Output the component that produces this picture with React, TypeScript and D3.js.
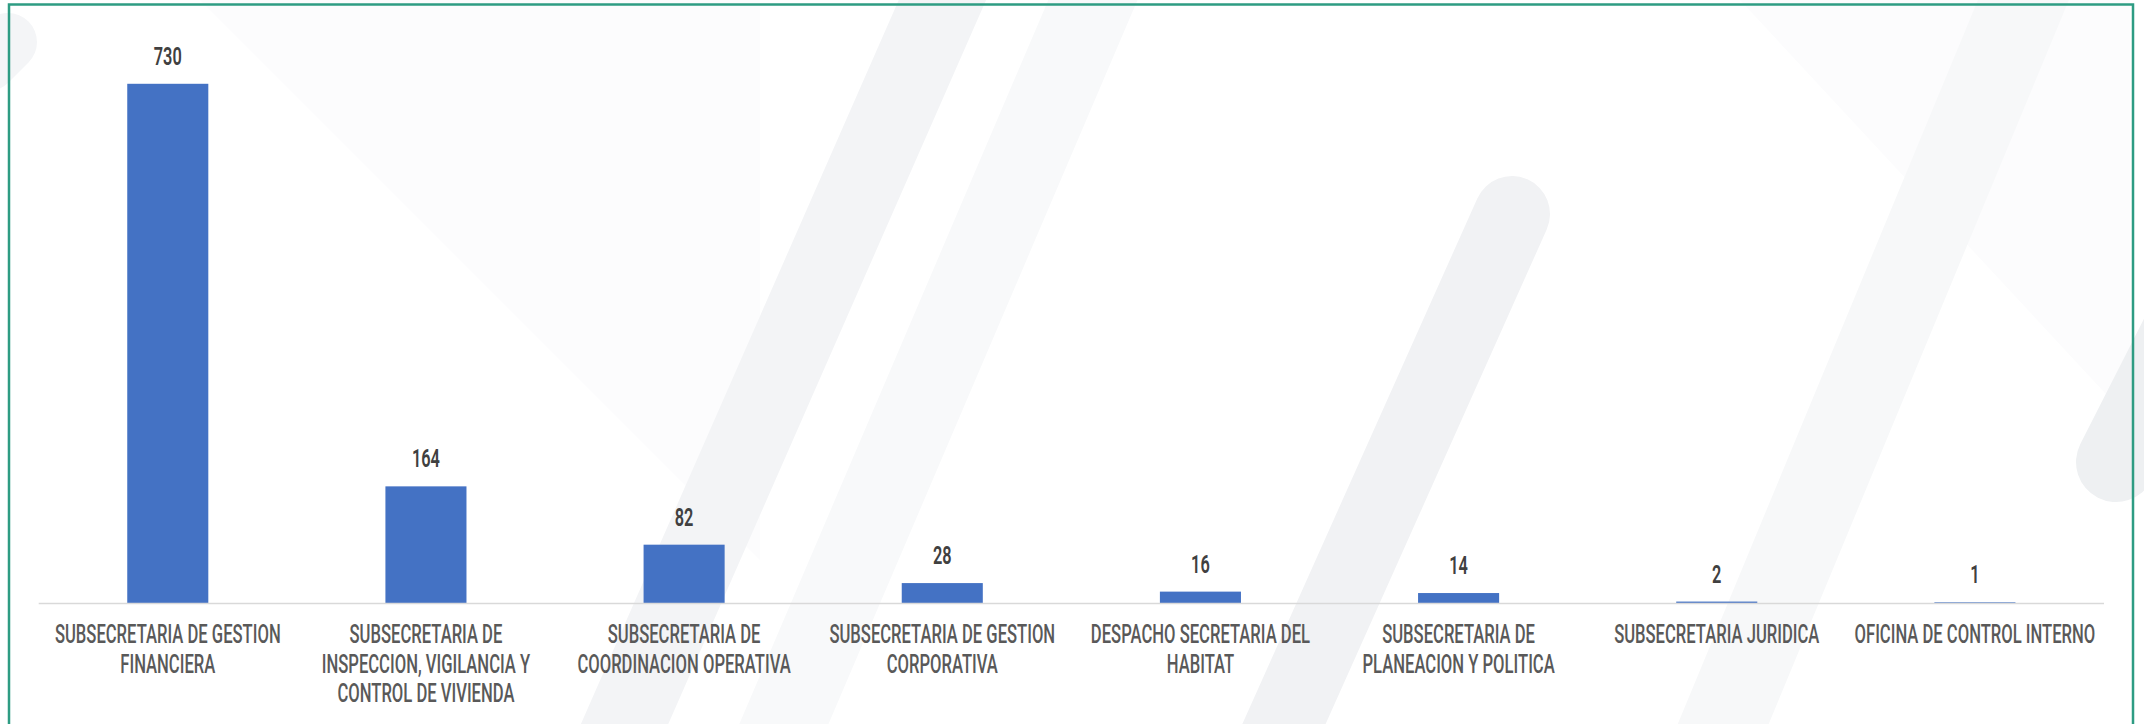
import React from "react";
import * as d3 from "d3";

const categories: string[] = [
  "SUBSECRETARIA DE GESTION\nFINANCIERA",
  "SUBSECRETARIA DE\nINSPECCION, VIGILANCIA Y\nCONTROL DE VIVIENDA",
  "SUBSECRETARIA DE\nCOORDINACION OPERATIVA",
  "SUBSECRETARIA DE GESTION\nCORPORATIVA",
  "DESPACHO SECRETARIA DEL\nHABITAT",
  "SUBSECRETARIA DE\nPLANEACION Y POLITICA",
  "SUBSECRETARIA JURIDICA",
  "OFICINA DE CONTROL INTERNO",
];

const values: number[] = [730, 164, 82, 28, 16, 14, 2, 1];

const yDomainMax = 800;

// faint watermark bands: [x1, y1, x2, y2, width, color]
const watermark: [number, number, number, number, number, string][] = [
  [960, -40, 600, 780, 80, "#f3f4f6"],
  [1110, -40, 760, 780, 82, "#f8f9fa"],
  [1512, 214, 1250, 800, 76, "#f1f2f4"],
  [2040, -40, 1700, 780, 84, "#f7f8f9"],
  [2116, 462, 2300, 100, 80, "#eef0f2"],
  [-12, 62, 8, 42, 58, "#f4f5f7"],
];

const W = 2144;
const H = 724;
const SX_VAL = 0.64;
const SX_CAT = 0.665;
const FONT = "Roboto, 'Open Sans', sans-serif";

export default function App() {
  const x = d3
    .scaleBand<string>()
    .domain(categories)
    .range([38.7, 2104])
    .paddingInner(0.686)
    .paddingOuter(0.343);
  const y = d3.scaleLinear().domain([0, yDomainMax]).range([603, 34]);

  return (
    <svg
      width={W}
      height={H}
      style={{ position: "absolute", left: 0, top: 0, background: "#ffffff" }}
    >
      <rect x={0} y={0} width={W} height={H} fill="#ffffff" />
      <path d="M 200 0 L 760 560 L 760 0 Z" fill="#fcfcfd" />
      <path d="M 1740 0 L 2130 420 L 2130 0 Z" fill="#fcfcfd" />
      {watermark.map((w, i) => (
        <line
          key={i}
          x1={w[0]}
          y1={w[1]}
          x2={w[2]}
          y2={w[3]}
          stroke={w[5]}
          strokeWidth={w[4]}
          strokeLinecap="round"
        />
      ))}
      <rect
        x={9}
        y={4.5}
        width={2124}
        height={900}
        fill="none"
        stroke="#2e9c83"
        strokeWidth={2.5}
      />
      {values.map((v, i) => {
        const c = categories[i];
        return (
          <rect
            key={c}
            x={x(c)!}
            y={y(v)}
            width={x.bandwidth()}
            height={y(0) - y(v)}
            fill="#4472c4"
          />
        );
      })}
      <line
        x1={x.range()[0]}
        x2={x.range()[1]}
        y1={y(0) + 0.5}
        y2={y(0) + 0.5}
        stroke="#d9d9d9"
        strokeWidth={1.5}
      />
      {values.map((v, i) => {
        const c = categories[i];
        const cx = x(c)! + x.bandwidth() / 2;
        return (
          <text
            key={"v" + c}
            transform={`translate(${cx},${y(v) - 19}) scale(${SX_VAL},1)`}
            textAnchor="middle"
            fontFamily={FONT}
            fontSize={25.5}
            fontWeight={600}
            fill="#404040"
          >
            {d3.format("d")(v)}
          </text>
        );
      })}
      {categories.map((c) => {
        const cx = x(c)! + x.bandwidth() / 2;
        const lines = c.split("\n");
        return (
          <g key={"c" + c}>
            {lines.map((ln, j) => (
              <text
                key={j}
                transform={`translate(${cx},${643.3 + j * 29.2}) scale(${SX_CAT},1)`}
                textAnchor="middle"
                fontFamily={FONT}
                fontSize={25}
                fontWeight={500}
                fill="#595959"
              >
                {ln}
              </text>
            ))}
          </g>
        );
      })}
    </svg>
  );
}
